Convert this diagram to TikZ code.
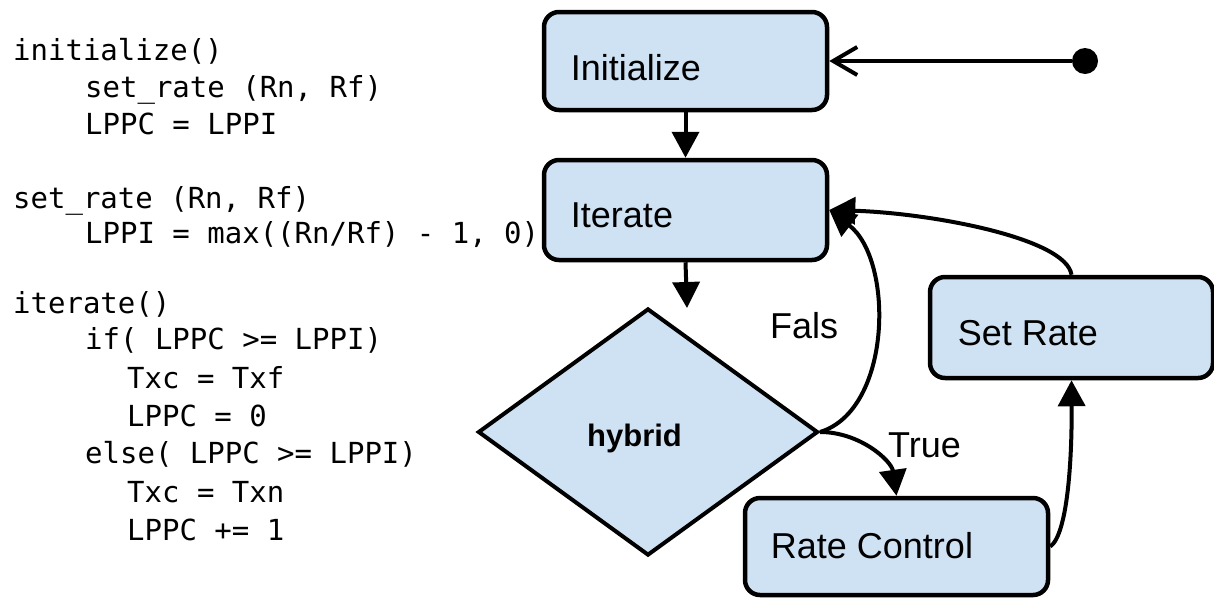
\documentclass[tikz,border=0pt]{standalone}
\usepackage{fontspec}
\setmainfont{Liberation Sans}
\newfontfamily\codefont{DejaVu Sans Mono}
\usetikzlibrary{arrows.meta,shapes.geometric,calc}
\definecolor{boxfill}{HTML}{CFE2F3}
\begin{document}
\begin{tikzpicture}[x=1pt,y=-1pt,
  box/.style={draw, line width=4.5pt, rounded corners=15pt, fill=boxfill, inner sep=0pt},
  lbl/.style={font=\fontsize{36}{40}\selectfont, anchor=base west, inner sep=0pt},
  code/.style={font=\codefont\fontsize{29}{35}\selectfont, anchor=base west, inner sep=0pt},
  conn/.style={line width=4pt, -{Triangle[length=26pt,width=27pt]}},
]
\useasboundingbox (0,0) rectangle (1214,598);

% code listing
\node[code] (c1) at (13,60) {initialize()};
\node[code] (c2) at (85,97) {set\_rate (Rn, Rf)};
\node[code] (c3) at (85,134) {LPPC = LPPI};
\node[code] (c4) at (13,208) {set\_rate (Rn, Rf)};
\node[code] (c5) at (85,243) {LPPI = max((Rn/Rf) - 1, 0)};
\node[code] (c6) at (13,313) {iterate()};
\node[code] (c7) at (85,349) {if( LPPC >= LPPI)};
\node[code] (c8) at (127,388) {Txc = Txf};
\node[code] (c9) at (127,426) {LPPC = 0};
\node[code] (c10) at (85,463) {else( LPPC >= LPPI)};
\node[code] (c11) at (127,502) {Txc = Txn};
\node[code] (c12) at (127,540) {LPPC += 1};

% boxes
\node[box, minimum width=283pt, minimum height=98pt] (init) at (685.5,61) {};
\node[box, minimum width=283pt, minimum height=100pt] (it) at (685.5,210) {};
\node[box, minimum width=283pt, minimum height=101pt] (sr) at (1071.5,327.5) {};
\node[box, minimum width=303pt, minimum height=97pt] (rc) at (896.5,546.5) {};
\node[diamond, draw, line width=4pt, fill=boxfill, minimum width=340pt, minimum height=247pt, aspect=1.377, inner sep=0pt] (hyb) at (648,432) {};

% box labels
\node[lbl] (initT) at ($(init.west)+(29,19)$) {Initialize};
\node[lbl] (itT) at ($(it.west)+(29,17)$) {Iterate};
\node[lbl] (srT) at ($(sr.west)+(30,17.5)$) {Set Rate};
\node[lbl] (rcT) at ($(rc.west)+(28,11.5)$) {Rate Control};
\node[font=\bfseries\fontsize{31}{36}\selectfont, anchor=base, inner sep=0pt] (hybT) at (634.5,446) {hybrid};

% start point
\node[circle, fill=black, minimum size=26pt, inner sep=0pt] (start) at (1085,61) {};
\coordinate (itout) at (687,308);

% connectors
\draw[line width=4pt, -{Straight Barb[length=24pt,width=28pt]}] (start) -- (init.east);
\draw[conn] (init.south) -- (it.north);
\draw[conn] (it.south) -- (itout);
\draw[conn] (hyb.east) .. controls +(72,-22) and +(65,50) .. (it.east);
\draw[conn] (hyb.east) .. controls +(40,0) and +(-5,-35) .. (rc.north);
\draw[conn] (rc.east) .. controls +(17,-12) and +(0.5,82) .. (sr.south);
\draw[conn] (sr.north) .. controls +(-5.5,-37) and +(100,3) .. (it.east);

% edge labels
\node[lbl] (fals) at (770,338) {Fals};
\node[lbl] (true) at (888,457) {True};
\end{tikzpicture}
\end{document}
